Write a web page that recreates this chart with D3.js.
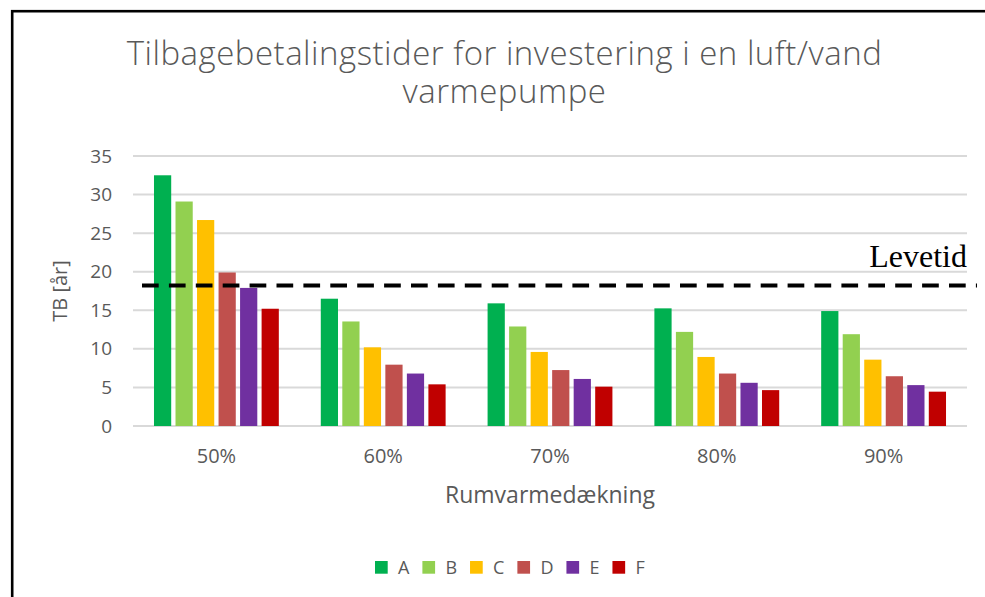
<!DOCTYPE html>
<html>
<head>
<meta charset="utf-8">
<style>
body { margin: 0; background: #fff; }
svg { display: block; font-family: "Open Sans", sans-serif; }
</style>
</head>
<body>
<svg width="985" height="597"></svg>
<script src="https://d3js.org/d3.v7.min.js"></script>
<script>
// data
var categories = ["50%", "60%", "70%", "80%", "90%"];
var seriesNames = ["A", "B", "C", "D", "E", "F"];
var valuesA = [32.5, 16.5, 15.9, 15.25, 14.9];
var valuesB = [29.1, 13.55, 12.9, 12.2, 11.9];
var valuesC = [26.7, 10.2, 9.6, 8.95, 8.6];
var valuesD = [19.9, 7.95, 7.25, 6.8, 6.45];
var valuesE = [17.9, 6.8, 6.1, 5.6, 5.3];
var valuesF = [15.2, 5.4, 5.1, 4.65, 4.45];
var levetid = 18.2;
var yTicks = [0, 5, 10, 15, 20, 25, 30, 35];
var colors = ["#00B050", "#92D050", "#FFC000", "#C0504D", "#7030A0", "#C00000"];

var allValues = [valuesA, valuesB, valuesC, valuesD, valuesE, valuesF];

var svg = d3.select("svg"),
    margin = { top: 156, right: 18, bottom: 171, left: 133 },
    width = +svg.attr("width") - margin.left - margin.right,
    height = +svg.attr("height") - margin.top - margin.bottom;

// frame round the chart
svg.append("rect")
    .attr("x", 12.2)
    .attr("y", 11.2)
    .attr("width", 1000)
    .attr("height", 700)
    .attr("fill", "none")
    .attr("stroke", "#000")
    .attr("stroke-width", 2.6);

// title, two lines
svg.append("text")
    .attr("x", 504.5)
    .attr("y", 65)
    .attr("text-anchor", "middle")
    .attr("fill", "#595959")
    .style("font-size", "33px")
    .style("font-weight", 300)
    .style("letter-spacing", "0.5px")
    .text("Tilbagebetalingstider for investering i en luft/vand");
svg.append("text")
    .attr("x", 504.5)
    .attr("y", 103)
    .attr("text-anchor", "middle")
    .attr("fill", "#595959")
    .style("font-size", "33px")
    .style("font-weight", 300)
    .style("letter-spacing", "0.5px")
    .text("varmepumpe");

var x0 = d3.scaleBand().domain(categories).range([0, width]).paddingInner(0.2).paddingOuter(0.1),
    x1 = d3.scaleBand().domain(seriesNames).range([0, x0.bandwidth()]).padding(0.2),
    y = d3.scaleLinear().domain([0, 35]).range([height, 0]);

var g = svg.append("g")
    .attr("transform", "translate(" + margin.left + "," + margin.top + ")");

// gridlines
g.append("g")
    .selectAll("line")
    .data(yTicks)
    .enter().append("line")
    .attr("x1", 0)
    .attr("x2", width)
    .attr("y1", function(d) { return y(d); })
    .attr("y2", function(d) { return y(d); })
    .attr("stroke", "#d9d9d9")
    .attr("stroke-width", 2);

// y axis labels
var yAxis = g.append("g")
    .attr("class", "axis axis--y")
    .attr("transform", "translate(-21,0)")
    .call(d3.axisLeft(y).tickValues(yTicks).tickSize(0).tickPadding(0));
yAxis.select(".domain").remove();
yAxis.selectAll("text").attr("fill", "#595959").style("font-size", "19px").style("font-family", "'Open Sans', sans-serif");

// x axis labels
var xAxis = g.append("g")
    .attr("class", "axis axis--x")
    .attr("transform", "translate(0," + height + ")")
    .call(d3.axisBottom(x0).tickSize(0).tickPadding(23));
xAxis.select(".domain").remove();
xAxis.selectAll("text").attr("fill", "#595959").style("font-size", "20px").style("font-family", "'Open Sans', sans-serif");

// bars
var groups = g.selectAll(".group")
    .data(categories)
    .enter().append("g")
    .attr("class", "group")
    .attr("transform", function(d) { return "translate(" + x0(d) + ",0)"; });

groups.selectAll(".bar")
    .data(function(c, ci) {
        return seriesNames.map(function(s, si) {
            return { name: s, value: allValues[si][ci], color: colors[si] };
        });
    })
    .enter().append("rect")
    .attr("class", "bar")
    .attr("x", function(d) { return x1(d.name); })
    .attr("y", function(d) { return y(d.value); })
    .attr("width", x1.bandwidth())
    .attr("height", function(d) { return height - y(d.value); })
    .attr("fill", function(d) { return d.color; });

// lifetime line
g.append("line")
    .attr("x1", 9)
    .attr("x2", width + 10)
    .attr("y1", y(levetid))
    .attr("y2", y(levetid))
    .attr("stroke", "#000")
    .attr("stroke-width", 4)
    .attr("stroke-dasharray", "16.7,10.2");

g.append("text")
    .attr("x", width)
    .attr("y", y(levetid) - 19)
    .attr("text-anchor", "end")
    .attr("fill", "#000")
    .style("font-family", "'Liberation Serif', 'Times New Roman', serif")
    .style("font-size", "32px")
    .text("Levetid");

// axis titles
svg.append("text")
    .attr("transform", "translate(67," + (margin.top + height / 2) + ") rotate(-90)")
    .attr("text-anchor", "middle")
    .attr("fill", "#595959")
    .style("font-size", "20px")
    .text("TB [år]");

svg.append("text")
    .attr("x", margin.left + width / 2)
    .attr("y", 503)
    .attr("text-anchor", "middle")
    .attr("fill", "#595959")
    .style("font-size", "23px")
    .text("Rumvarmedækning");

// legend
var legend = svg.append("g").attr("transform", "translate(375,561)");
var lx = 0;
seriesNames.forEach(function(s, i) {
    legend.append("rect")
        .attr("x", lx)
        .attr("y", 0)
        .attr("width", 12.7)
        .attr("height", 12.7)
        .attr("fill", colors[i]);
    var t = legend.append("text")
        .attr("x", lx + 23)
        .attr("y", 13)
        .attr("fill", "#595959")
        .style("font-size", "18px")
        .text(s);
    lx = lx + 23 + t.node().getComputedTextLength() + 13;
});
</script>
</body>
</html>
